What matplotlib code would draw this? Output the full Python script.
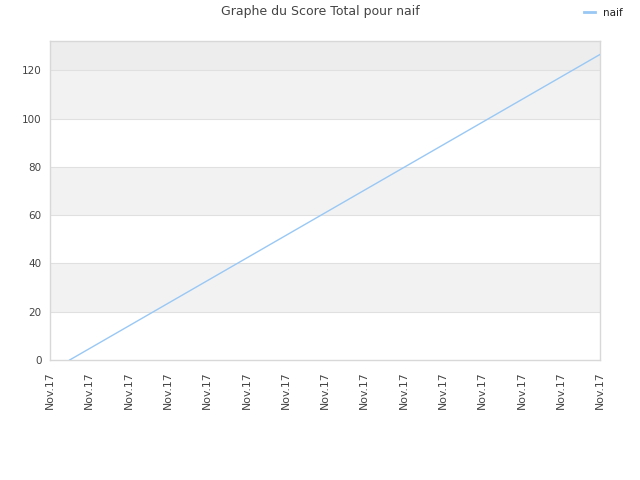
import matplotlib
matplotlib.use("Agg")
import matplotlib.pyplot as plt
from matplotlib.lines import Line2D

# Data
x_ticks = list(range(15))
tick_labels = ["Nov.17"] * 15
x_values = [0.5, 14.0]
scores = [0.0, 126.6]
y_ticks = [0, 20, 40, 60, 80, 100, 120]
y_max = 132.3

text_color = "#444444"
line_color = "#99c8f5"

fig = plt.figure(figsize=(6.4, 4.8), dpi=100)
ax = fig.add_axes([50/640, 120/480, 550/640, 319.3/480])

# alternating bands
for i, lo in enumerate(y_ticks):
    hi = y_ticks[i + 1] if i + 1 < len(y_ticks) else y_max
    if lo == y_ticks[-1]:
        color = "#ededed"
    elif (lo // 20) % 2 == 1:
        color = "#f2f2f2"
    else:
        color = "#ffffff"
    ax.axhspan(lo, hi, color=color, zorder=0, lw=0)
for t in y_ticks[1:]:
    ax.axhline(t, color="#e0e0e0", lw=0.8, zorder=1)

ax.plot(x_values, scores, color=line_color, lw=1.0, zorder=3)

ax.set_xlim(0, 14)
ax.set_ylim(0, y_max)
ax.set_xticks(x_ticks)
ax.set_xticklabels(tick_labels, rotation=90, fontsize=7.8, color=text_color)
ax.set_yticks(y_ticks)
ax.set_yticklabels([str(v) for v in y_ticks], fontsize=7.5, color=text_color)
ax.tick_params(axis="y", length=0, pad=6)
ax.tick_params(axis="x", length=0, pad=8)
for s in ax.spines.values():
    s.set_color("#d8d8d8")
    s.set_linewidth(1.0)

fig.text(0.5, 1 - 12/480, "Graphe du Score Total pour naif", ha="center", va="center",
         fontsize=9, color=text_color)
handle = Line2D([], [], color=line_color, lw=2)
fig.legend([handle], ["naif"], loc="center right", bbox_to_anchor=(632/640, 1 - 13/480),
           frameon=False, fontsize=7.5, handlelength=1.0, handletextpad=0.8,
           labelcolor="#222222")

fig.savefig("out.png", dpi=100)
